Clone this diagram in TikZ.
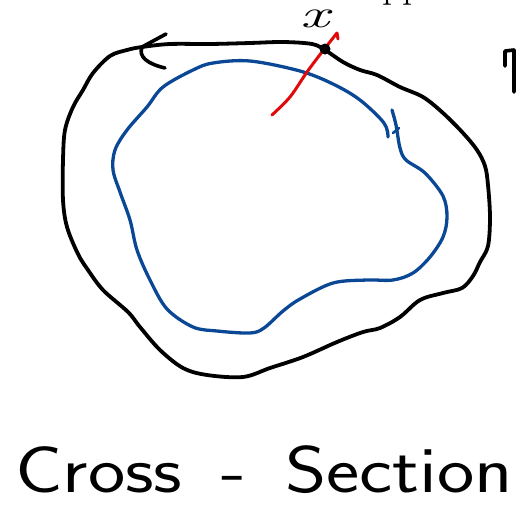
\documentclass[tikz,border=0pt]{standalone}
\usepackage{tikz}
\definecolor{inkblue}{RGB}{10,72,150}
\definecolor{inkred}{RGB}{225,10,10}
\usetikzlibrary{arrows.meta}

\begin{document}
\begin{tikzpicture}[x=1pt,y=-1pt,line cap=round,line join=round]
  \useasboundingbox (0,0) rectangle (517,504);
  \clip (0,0) rectangle (517,504);

  %% Outer boundary (black)
  \draw[black,line width=3.8pt] plot[smooth cycle,tension=0.55] coordinates {
    (325,50) (343,62) (360,70) (377,75) (400,87) (423,97) (443,113)
    (463,133) (477,150) (485,166) (488,185) (490,217) (488,246)
    (480,262) (473,276) (462,288) (443,293) (420,300) (400,317)
    (380,328) (363,332) (337,342) (303,357) (270,368) (243,377)
    (207,375) (183,368) (160,350) (140,327) (128,312) (103,290)
    (88,270) (78,254) (67,227) (63,200) (63,160) (65,130) (73,107)
    (83,90) (93,73) (110,56) (127,50) (142,47) (170,44) (210,44)
    (250,43) (283,42) (312,44)};

  %% Direction arrow on the boundary
  \draw[black,line width=3.6pt] (166,34) -- (142,47);
  \draw[black,line width=3.6pt] (142,47) .. controls (138,57) and (148,64) .. (165,68);

  %% Inner curve (blue)
  \draw[inkblue,line width=3.3pt] plot[smooth,tension=0.55] coordinates {
    (388,137) (384,123) (360,100) (333,84) (300,71) (250,61) (213,63)
    (193,70) (163,87) (147,107) (127,130) (115,150) (113,170) (120,192)
    (130,220) (137,250) (150,280) (167,309) (193,327) (217,331)
    (250,333) (264,328) (283,311) (300,299) (333,283) (367,280)
    (393,280) (413,273) (430,257) (443,237) (447,217) (443,196)
    (425,173) (406,160) (400,148) (396,125) (392,110)};
  \draw[inkblue,line width=2.6pt] (393,133) -- (399,128);

  %% Cut line (red) through the point
  \coordinate (cutA) at (272,115);
  \coordinate (cutB) at (337,33);
  \draw[inkred,line width=3pt] plot[smooth,tension=0.5] coordinates {
    (cutA) (290,97) (307,72) (322,52) (cutB)};
  \draw[inkred,line width=3pt] (cutB) -- (338,39);

  %% The point x
  \node[circle,fill=black,inner sep=0pt,minimum size=11pt] (pt) at (325,49) {};
  \node[anchor=base,inner sep=0pt,font=\fontsize{40}{40}\selectfont\itshape] (xlab) at (315,27)
    {\scalebox{1.6}[1]{x}};

  %% Fragments cut off by the frame
  \node[anchor=base west,inner sep=0pt,font=\fontsize{40}{40}\selectfont] (pp) at (382,-3) {pp};
  \draw[black,line width=3.6pt] (505,66) -- (505,51) -- (514,50) -- (514,92);

  %% Caption
  \node[anchor=base west,inner sep=0pt,font=\sffamily\fontsize{66}{66}\selectfont]
    (caption) at (15,492) {\scalebox{1.2}[1]{Cross\hspace{0.18em} - \hspace{0.18em}Section}};
\end{tikzpicture}
\end{document}
